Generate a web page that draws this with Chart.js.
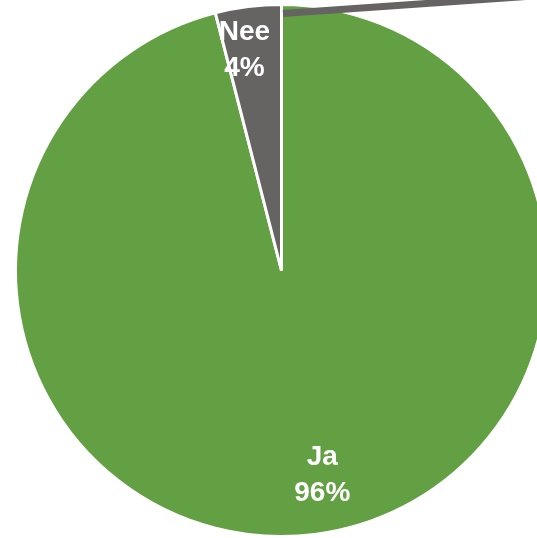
<!DOCTYPE html>
<html>
<head>
<meta charset="utf-8">
<script src="https://cdn.jsdelivr.net/npm/chart.js@4/dist/chart.umd.min.js"></script>
<style>
  html, body { margin: 0; padding: 0; background: #ffffff; overflow: hidden; }
  #wrap { position: relative; width: 537px; height: 538px; overflow: hidden; }
  #taart { position: absolute; left: 0; top: 0; }
</style>
</head>
<body>
<div id="wrap">
  <canvas id="taart" width="600" height="600"></canvas>
</div>
<script>
var categorieen = ['Ja', 'Nee'];
var waarden = [96, 4];
var kleuren = ['#62a043', '#656463'];

// plaatsing van de labels per segment (fractie van de straal + verschuiving)
var labelStijl = [
    { frac: 0.773, dx: 15, dy: 1 },
    { frac: 0.84, dx: -9, dy: 1 }
];

var totaal = waarden.reduce(function (a, b) { return a + b; }, 0);

var labelPlugin = {
    id: 'segmentLabels',
    afterDatasetsDraw: function (chart) {
        var ctx = chart.ctx;
        var meta = chart.getDatasetMeta(0);

        // grijze streep vanaf het "Nee" segment
        var nee = meta.data[1];
        var eind = nee.endAngle;
        var sx = nee.x + 1.5;
        var sy = nee.y + Math.sin(eind) * (nee.outerRadius - 9);
        var hoek = -4 * Math.PI / 180;
        ctx.save();
        ctx.strokeStyle = kleuren[1];
        ctx.lineWidth = 7;
        ctx.lineCap = 'butt';
        ctx.beginPath();
        ctx.moveTo(sx, sy);
        ctx.lineTo(sx + Math.cos(hoek) * 400, sy + Math.sin(hoek) * 400);
        ctx.stroke();
        ctx.restore();

        ctx.save();
        ctx.fillStyle = '#ffffff';
        ctx.font = 'bold 28px "Liberation Sans", Arial, sans-serif';
        ctx.textAlign = 'center';
        ctx.textBaseline = 'middle';
        meta.data.forEach(function (arc, i) {
            var mid = (arc.startAngle + arc.endAngle) / 2;
            var st = labelStijl[i];
            var r = arc.outerRadius * st.frac;
            var x = arc.x + Math.cos(mid) * r + st.dx;
            var y = arc.y + Math.sin(mid) * r + st.dy;
            var pct = Math.round(waarden[i] / totaal * 100) + '%';
            ctx.fillText(categorieen[i], x, y - 18);
            ctx.fillText(pct, x, y + 18);
        });
        ctx.restore();
    }
};

new Chart(document.getElementById('taart'), {
    type: 'pie',
    data: {
        labels: categorieen,
        datasets: [{
            data: waarden,
            backgroundColor: kleuren,
            borderColor: '#ffffff',
            borderWidth: 3,
            hoverOffset: 0
        }]
    },
    options: {
        responsive: false,
        animation: false,
        layout: { padding: { left: 14, top: 3, right: 51, bottom: 62 } },
        plugins: {
            legend: { display: false },
            tooltip: { enabled: false }
        }
    },
    plugins: [labelPlugin]
});
</script>
</body>
</html>
